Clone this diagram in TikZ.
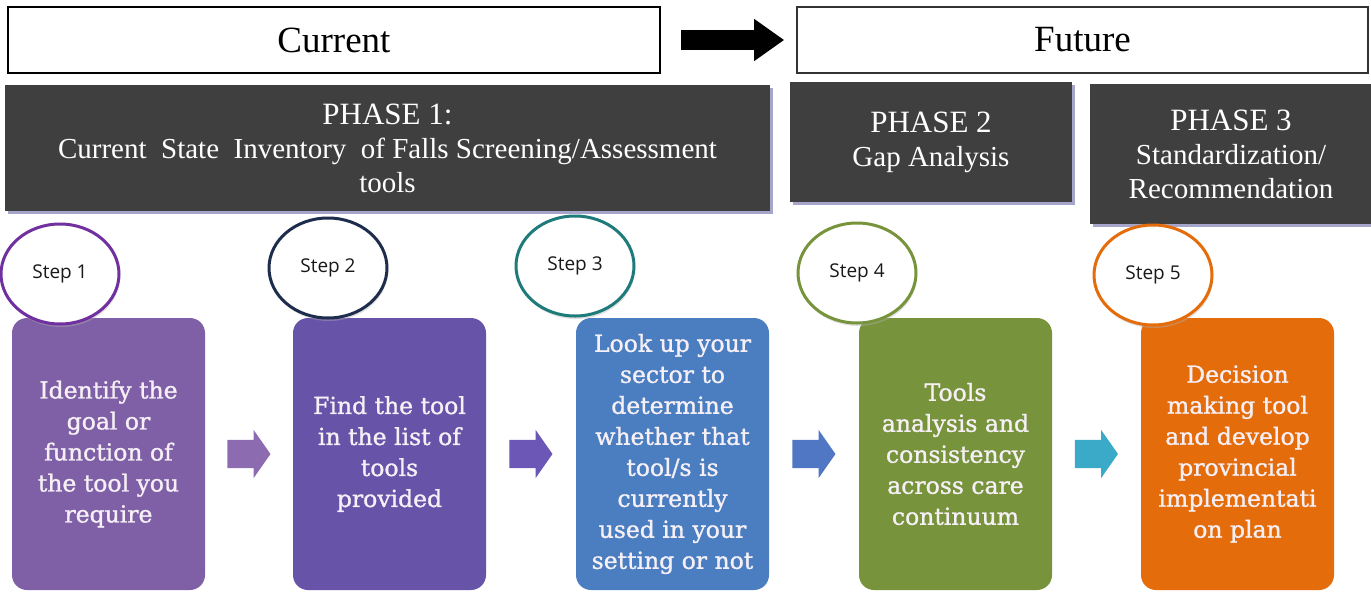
\documentclass[tikz,border=0pt]{standalone}
\usepackage{fontspec}
\setmainfont{Liberation Serif}
\newfontfamily\boxfont[FakeBold=1.2]{DejaVu Serif}
\newfontfamily\stepfont{Open Sans}
\usepackage{tikz}
\usetikzlibrary{arrows.meta}
\usetikzlibrary{shapes.geometric, shapes.arrows, shadows, calc}
\usepackage{xcolor}
\definecolor{phasegray}{HTML}{3F3F3F}
\definecolor{boxtext}{HTML}{F6F0F6}
\definecolor{boxA}{HTML}{7F60A6}
\definecolor{boxB}{HTML}{6753A8}
\definecolor{boxC}{HTML}{4A7EC0}
\definecolor{boxD}{HTML}{77933C}
\definecolor{boxE}{HTML}{E46C0A}
\definecolor{ringA}{HTML}{7030A0}
\definecolor{ringB}{HTML}{1F2D4D}
\definecolor{ringC}{HTML}{1F7B7B}
\definecolor{ringD}{HTML}{77933C}
\definecolor{ringE}{HTML}{E46C0A}
\definecolor{flowA}{HTML}{8D6BB0}
\definecolor{flowB}{HTML}{6C56B6}
\definecolor{flowC}{HTML}{4F77C4}
\definecolor{flowD}{HTML}{3AAAC8}

\begin{document}
\begin{tikzpicture}[x=1pt,y=-1pt,
  timebox/.style={draw=black, line width=1.6pt, fill=white, minimum height=66pt,
    inner sep=0pt, font=\fontsize{37}{40}\selectfont},
  phase/.style={fill=phasegray, text=white, align=center, inner sep=0pt,
    drop shadow={shadow xshift=3pt, shadow yshift=-3pt, fill=blue!40!black, opacity=.35},
    font=\fontsize{29}{34}\selectfont},
  stepbox/.style={rounded corners=15pt, minimum width=193pt, minimum height=272pt,
    text=boxtext, align=center, inner sep=0pt,
    font=\boxfont\fontsize{23.5}{31}\selectfont},
  stepring/.style={ellipse, fill=white, line width=3pt, minimum width=118pt,
    minimum height=100pt, inner sep=0pt, text=black!90,
    drop shadow={shadow xshift=1pt, shadow yshift=-3pt, fill=black!30, opacity=.4},
    font=\stepfont\fontsize{19}{22}\selectfont},
  flow/.style={single arrow, single arrow head extend=10pt, single arrow tip angle=110,
    minimum height=43pt, minimum width=48pt, inner xsep=0pt, inner ysep=14pt,
    xshift=-5pt},
  bigarrow/.style={line width=20pt, -{Triangle[length=30pt, width=40pt]},
    shorten <=20pt, shorten >=12pt}
]
\clip (0,0) rectangle (1371,592);

\node[timebox, minimum width=652pt] (cur) at (334,40) {Current};
\node[timebox, minimum width=571pt, draw=black!80] (fut) at (1082.5,40) {Future};
\draw[bigarrow] (cur.east) -- (fut.west);

\node[phase, minimum width=765pt, minimum height=126pt] (ph1) at (387.5,148)
  {{\fontsize{31}{36}\selectfont PHASE 1:}\\
   Current~ State~ Inventory~ of Falls Screening/Assessment\\ tools};
\node[phase, minimum width=282pt, minimum height=120pt] (ph2) at (931,142)
  {{\fontsize{31}{36}\selectfont PHASE 2}\\ Gap Analysis};
\node[phase, minimum width=282pt, minimum height=140pt] (ph3) at (1231,154)
  {{\fontsize{31}{36}\selectfont PHASE 3}\\ Standardization/\\ Recommendation};

\node[stepbox, fill=boxA] (b1) at (108.5,454)
  {Identify the\\ goal or\\ function of\\ the tool you\\ require};
\node[stepbox, fill=boxB] (b2) at (389.5,454)
  {Find the tool\\ in the list of\\ tools\\ provided};
\node[stepbox, fill=boxC] (b3) at (672.5,454)
  {Look up your\\ sector to\\ determine\\ whether that\\ tool/s is\\ currently\\ used in your\\ setting or not};
\node[stepbox, fill=boxD] (b4) at (955.5,454)
  {Tools\\ analysis and\\ consistency\\ across care\\ continuum};
\node[stepbox, fill=boxE] (b5) at (1237.5,454)
  {Decision\\ making tool\\ and develop\\ provincial\\ implementati\\ on plan};

\node[stepring, draw=ringA] (s1) at (60,274) {Step 1};
\node[stepring, draw=ringB] (s2) at (328,268) {Step 2};
\node[stepring, draw=ringC] (s3) at (575,266) {Step 3};
\node[stepring, draw=ringD] (s4) at (857,273) {Step 4};
\node[stepring, draw=ringE] (s5) at (1153,275) {Step 5};

\node[flow, fill=flowA] (f1) at ($(b1.east)!.5!(b2.west)$) {};
\node[flow, fill=flowB] (f2) at ($(b2.east)!.5!(b3.west)$) {};
\node[flow, fill=flowC] (f3) at ($(b3.east)!.5!(b4.west)$) {};
\node[flow, fill=flowD] (f4) at ($(b4.east)!.5!(b5.west)$) {};
\end{tikzpicture}
\end{document}
